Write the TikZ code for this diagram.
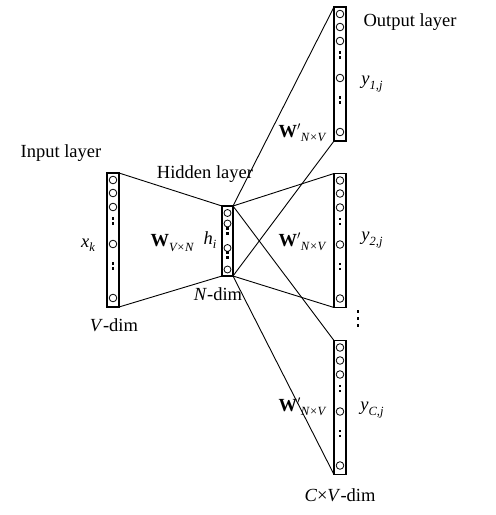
\documentclass[tikz,border=0pt]{standalone}
\usepackage{fontspec}
\setmainfont{Liberation Serif}
\newcommand\mysub[1]{\raisebox{-0.5ex}{\fontsize{12.5}{12.5}\selectfont\itshape #1}}
\newcommand\bigcol[2]{%
  \foreach \d in {7,20,34,71,125} \draw[neuron] (#1,#2+\d) circle (3.8pt);
  \foreach \d in {48,53,93,98} \fill (#1-1.3,#2+\d-1.3) rectangle ++(2.6,-2.6);
}
\begin{document}
\begin{tikzpicture}[x=1pt,y=-1pt,
  layerbox/.style={draw, line width=1.1pt, minimum width=12pt, inner sep=0pt, outer sep=0pt},
  neuron/.style={line width=0.8pt},
  conn/.style={line width=0.9pt},
  lbl/.style={font=\fontsize{18.5}{20}\selectfont, inner sep=0pt}]
\useasboundingbox (0,0) rectangle (496,515);
% boxes
\node[layerbox, minimum height=134pt] (in) at (113,240) {};
\node[layerbox, minimum width=11pt, minimum height=70pt] (hid) at (227.5,241) {};
\node[layerbox, minimum height=134pt] (o1) at (340,74) {};
\node[layerbox, minimum height=134pt] (o2) at (340,240.5) {};
\node[layerbox, minimum height=134pt] (o3) at (340,407.5) {};
% contents
\bigcol{113}{173}
\bigcol{340}{7}
\bigcol{340}{173.5}
\bigcol{340}{340.5}
\foreach \d in {213,223.5,248,269.5} \draw[neuron] (227.5,\d) circle (3.5pt);
\foreach \d in {231,236,255,260} \fill (227.5-1.3,\d-1.3) rectangle ++(2.6,-2.6);
\foreach \d in {314,321,328} \fill (358-1.4,\d-1.4) rectangle ++(2.8,-2.8);
% connectors
\draw[conn] (in.north east) -- (hid.north west);
\draw[conn] (in.south east) -- (hid.south west);
\foreach \o in {o1,o2,o3} {
  \draw[conn] (hid.north east) -- (\o.north west);
  \draw[conn] (hid.south east) -- (\o.south west);
}
% labels
\node[lbl] (lin) at (61,153) {Input layer};
\node[lbl] (lxk) at (88,245) {\textit{x}\mysub{k}};
\node[lbl] (lw) at (172,243) {\textbf{W}\mysub{V×N}};
\node[lbl] (lvd) at (114,325) {\textit{V}-dim};
\node[lbl] (lhid) at (205,174) {Hidden layer};
\node[lbl] (lhi) at (210,240) {\textit{h}\mysub{i}};
\node[lbl] (lnd) at (218,294) {\textit{N}-dim};
\node[lbl] (lout) at (410,22) {Output layer};
\node[lbl] (ly1) at (372,84) {\textit{y}\mysub{1,j}};
\node[lbl] (ly2) at (372,240) {\textit{y}\mysub{2,j}};
\node[lbl] (ly3) at (372,410) {\textit{y}\mysub{C,j}};
\node[lbl] (lw1) at (302,133) {\textbf{W}$'$\mysub{N×V}};
\node[lbl] (lw2) at (302,242) {\textbf{W}$'$\mysub{N×V}};
\node[lbl] (lw3) at (302,407) {\textbf{W}$'$\mysub{N×V}};
\node[lbl] (lcv) at (340,495) {\textit{C}×\textit{V}-dim};
\end{tikzpicture}
\end{document}
